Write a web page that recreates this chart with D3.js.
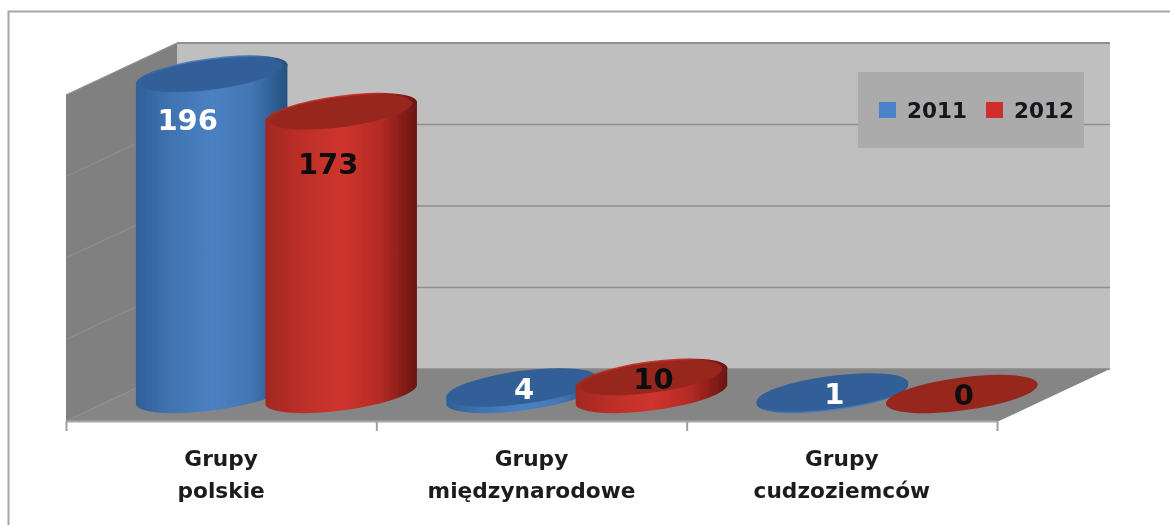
<!DOCTYPE html>
<html><head><meta charset="utf-8">
<script src="https://cdn.jsdelivr.net/npm/d3@7/dist/d3.min.js"></script>
<style>html,body{margin:0;padding:0;background:#fff;overflow:hidden}svg{display:block}text{font-family:"DejaVu Sans",sans-serif}</style>
</head><body><div id="c"></div>
<script>
const categories = [["Grupy","polskie"],["Grupy","międzynarodowe"],["Grupy","cudzoziemców"]];
const seriesNames = ["2011","2012"];
const values2011 = [196,4,1];
const values2012 = [173,10,0];
const yTicks = [0,50,100,150,200];

const W=1170,H=525;
const svg=d3.select("#c").append("svg").attr("width",W).attr("height",H);
const defs=svg.append("defs");
defs.append("filter").attr("id","soft").attr("x","-5%").attr("y","-5%").attr("width","110%").attr("height","110%")
  .append("feGaussianBlur").attr("stdDeviation",0.6);

const palette={
 "2011":{top:"#315f97",stops:["#2f5f98","#3f73b0","#4b80c2","#4377b4","#24507f"],solid:"#4a82c6",label:"#fff"},
 "2012":{top:"#97261f",stops:["#a0281f","#bb2e28","#cf342e","#b52b25","#6a1410"],solid:"#cf2f2b",label:"#0b0b0b"}
};
seriesNames.forEach(s=>{
  const g=defs.append("linearGradient").attr("id","g"+s).attr("x1",0).attr("x2",1).attr("y1",0).attr("y2",0);
  palette[s].stops.forEach((c,i)=>g.append("stop").attr("offset",[0,.22,.5,.75,1][i]).attr("stop-color",c));
});

const root=svg.append("g").attr("filter","url(#soft)");
root.append("rect").attr("width",W).attr("height",H).attr("fill","#fff");
// chart frame
root.append("path").attr("d",`M8.5,${H+5}V11.5H${W+5}`).attr("fill","none").attr("stroke","#a6a6a6").attr("stroke-width",2);

// scales
const depth={x:111,y:-52};
const x0=d3.scaleBand().domain(d3.range(categories.length)).range([66,997]);
const xEdges=d3.scalePoint().domain(d3.range(categories.length+1)).range([66,997]);
const y=d3.scaleLinear().domain([0,200]).range([369,43]);
const unit=y(0)-y(1);
const xs=d3.scalePoint().domain(seriesNames).range([-9.5,120]);
const baseY=394, rx=76.5, ry=16.5, tilt=-7.5;

// walls
const frontX=x0.range()[0], frontR=x0.range()[1], front=y(0)-depth.y;
const backX=frontX+depth.x, backR=frontR+depth.x+2;
root.append("polygon").attr("points",`${backX},${y(200)} ${backR},${y(200)} ${backR},${y(0)} ${backX},${y(0)}`).attr("fill","#bfbfbf");
root.append("polygon").attr("points",`${frontX},${y(200)-depth.y} ${backX},${y(200)} ${backX},${y(0)} ${frontX},${front}`).attr("fill","#808080");
root.append("polygon").attr("points",`${frontX},${front} ${backX},${y(0)} ${backR},${y(0)} ${frontR+2},${front}`).attr("fill","#858585");
yTicks.forEach(t=>{
  root.append("line").attr("x1",backX).attr("x2",backR).attr("y1",y(t)).attr("y2",y(t)).attr("stroke",t===0?"#8a8a8a":"#8e8e8e").attr("stroke-width",t===200?2:1.5);
  root.append("line").attr("x1",frontX).attr("x2",backX).attr("y1",y(t)-depth.y).attr("y2",y(t)).attr("stroke","#8f8f8f").attr("stroke-width",1.2);
});

// category axis
const axis=d3.axisBottom(xEdges).tickSizeInner(10).tickSizeOuter(0).tickFormat("");
const ag=root.append("g").attr("transform",`translate(0,${front})`).call(axis);
ag.selectAll("path").attr("stroke","#a8a8a8").attr("stroke-width",2);
ag.selectAll("line").attr("stroke","#a0a0a0").attr("stroke-width",2);

// cylinders
const th=tilt*Math.PI/180, c=Math.cos(th), s=Math.sin(th);
const tt=Math.atan2(ry*s,rx*c);
const tx=rx*Math.cos(tt)*c-ry*Math.sin(tt)*s, ty=rx*Math.cos(tt)*s+ry*Math.sin(tt)*c;
function cyl(g,cx,v,ser){
  const h=v*unit, top=baseY-h, p=palette[ser];
  if(v>0){
    g.append("path").attr("d",`M${cx+tx},${top+ty}L${cx+tx},${baseY+ty}A${rx},${ry},${tilt},0,1,${cx-tx},${baseY-ty}L${cx-tx},${top-ty}Z`).attr("fill",`url(#g${ser})`);
  }
  const tall=v>=10;
  if(tall) g.append("ellipse").attr("cx",cx).attr("cy",top).attr("rx",rx).attr("ry",ry)
    .attr("transform",`rotate(${tilt},${cx},${top})`).attr("fill",`url(#g${ser})`);
  g.append("ellipse").attr("cx",cx).attr("cy",top).attr("rx",tall?rx-5:rx).attr("ry",tall?ry-1.5:ry)
    .attr("transform",`rotate(${tilt},${cx},${top})`).attr("fill",p.top);
}
const seriesValues={"2011":values2011,"2012":values2012};
const bars=root.append("g");
categories.forEach((_,i)=>seriesNames.forEach(ser=>{
  cyl(bars,x0(i)+x0.bandwidth()/2+xs(ser),seriesValues[ser][i],ser);
}));
// data labels
categories.forEach((_,i)=>seriesNames.forEach(ser=>{
  const v=seriesValues[ser][i], cx=x0(i)+x0.bandwidth()/2+xs(ser), top=baseY-v*unit;
  const tall=v>50;
  root.append("text").attr("x",cx+(tall?(ser==="2011"?-24:-13):2)).attr("y",top+(tall?(ser==="2011"?45:52):1))
    .attr("dy","0.36em").attr("text-anchor","middle").attr("font-weight","bold").attr("font-size",29)
    .attr("fill",palette[ser].label).text(v);
}));

// category labels
categories.forEach((lines,i)=>lines.forEach((t,j)=>{
  root.append("text").attr("x",x0(i)+x0.bandwidth()/2).attr("y",466+j*32)
    .attr("text-anchor","middle").attr("font-size",21.7).attr("font-weight","bold").attr("fill","#1c1c1c").text(t);
}));

// legend
const lg=root.append("g");
lg.append("rect").attr("x",858).attr("y",72).attr("width",226).attr("height",76).attr("fill","#ababab");
const lx=d3.scalePoint().domain(seriesNames).range([879,986]);
seriesNames.forEach(ser=>{
  lg.append("rect").attr("x",lx(ser)).attr("y",102).attr("width",17).attr("height",16).attr("fill",palette[ser].solid);
  lg.append("text").attr("x",lx(ser)+28).attr("y",118).attr("font-size",21.5).attr("font-weight","bold").attr("fill","#12121a").text(ser);
});
</script></body></html>
